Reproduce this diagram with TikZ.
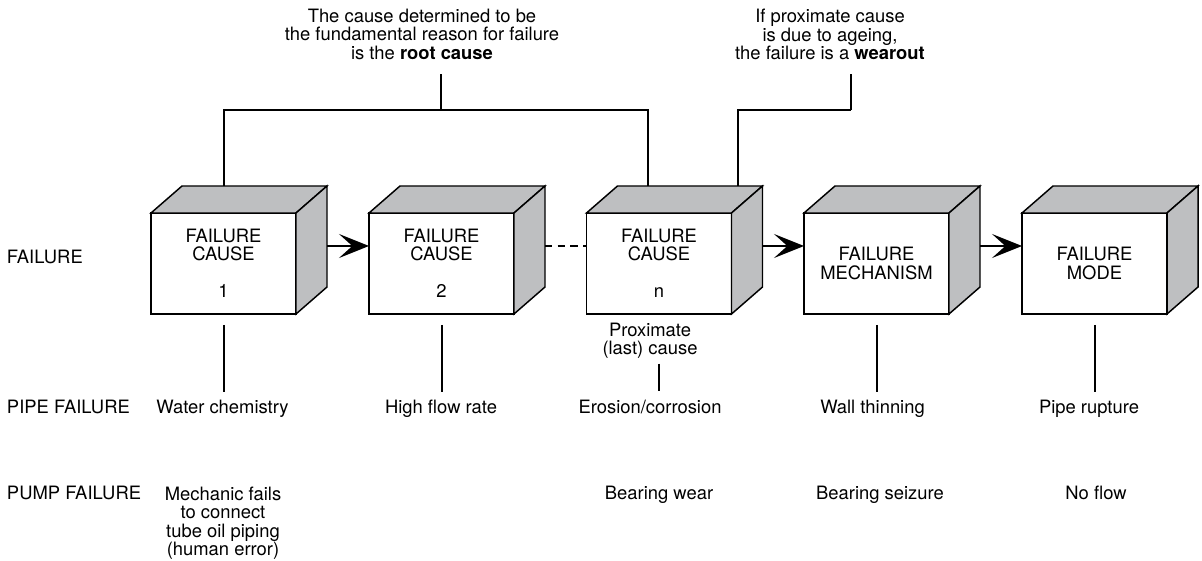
\documentclass[tikz,border=0pt]{standalone}
\usepackage{fontspec}
\setmainfont{TeX Gyre Heros}
\usetikzlibrary{arrows.meta,calc}
\definecolor{facegray}{RGB}{190,191,193}

\tikzset{
  failbox/.style={draw, line width=1.1pt, fill=white, minimum width=108.75pt,
    minimum height=75.75pt, inner sep=0pt, outer sep=0pt, align=center},
  face/.style={draw, line width=1.1pt, fill=facegray},
  txt/.style={inner sep=0pt, outer sep=0pt, align=center},
  link/.style={line width=1.5pt},
  flow/.style={line width=1.1pt, -{Stealth[length=22.5pt, width=18pt, inset=10pt]}},
}

% front face as a node, top and side faces drawn on its corners
\newcommand{\cubenode}[3]{%
  \node[failbox] (#1) at (#2,296.5) {#3};
  \filldraw[face] (#1.north west) -- ++(31,27) -- ++(145,0) -- (#1.north east) -- cycle;
  \filldraw[face] (#1.north east) -- ++(31,27) -- ++(0,-101) -- (#1.south east) -- cycle;
}

\begin{document}
\begin{tikzpicture}[x=0.75pt, y=0.75pt, font=\fontsize{13.8pt}{13.7pt}\selectfont]
  \useasboundingbox (0,0) rectangle (1202,560);

  % the blocks
  \cubenode{c1}{223.5}{FAILURE\\CAUSE\\[14pt]1}
  \cubenode{c2}{441.5}{FAILURE\\CAUSE\\[14pt]2}
  \cubenode{cn}{659}{FAILURE\\CAUSE\\[14pt]n}
  \cubenode{mech}{876.5}{FAILURE\\MECHANISM}
  \cubenode{mode}{1094.5}{FAILURE\\MODE}

  % arrows between blocks
  \draw[flow] ($(c1.east)+(31,17.5)$) -- ($(c2.west)+(0,17.5)$);
  \draw[line width=0.8pt, dash pattern=on 5.5pt off 4pt] ($(c2.east)+(31,17.5)$) -- ($(cn.west)+(0,17.5)$);
  \draw[flow] ($(cn.east)+(31,17.5)$) -- ($(mech.west)+(0,17.5)$);
  \draw[flow] ($(mech.east)+(31,17.5)$) -- ($(mode.west)+(0,17.5)$);

  % notes on top
  \node[txt, anchor=north] (rootnote) at (422,550.7)
    {The cause determined to be\\the fundamental reason for failure\\is the \textbf{root cause}};
  \node[txt, anchor=north] (wearnote) at (830,550.7)
    {If proximate cause\\is due to ageing,\\the failure is a \textbf{wearout}};
  \coordinate (rootbar) at (441,450);
  \coordinate (wearbar) at (850.5,450);
  \draw[link] ($(c1.north)+(0,27)$) |- (rootbar) -| ($(cn.north)+(-11,27)$);
  \draw[link, shorten >=10.5pt] (rootbar) -- (rootbar |- rootnote.south);
  \draw[link] ($(cn.north)+(79,27)$) |- (wearbar);
  \draw[link, shorten >=10.5pt] (wearbar) -- (wearbar |- wearnote.south);

  % row labels
  \node[txt, anchor=base west] (rowfail) at (7,296) {FAILURE};
  \node[txt, anchor=base west] (rowpipe) at (7,146.7) {PIPE FAILURE};
  \node[txt, anchor=base west] (rowpump) at (7,60) {PUMP FAILURE};

  % pipe failure
  \node[txt, anchor=north] (prox) at (650,237.3) {Proximate\\(last) cause};
  \node[txt, anchor=base] (pipe1) at (222.5,146.7) {Water chemistry};
  \node[txt, anchor=base] (pipe2) at (441,146.7) {High flow rate};
  \node[txt, anchor=base] (pipe3) at (650,146.7) {Erosion/corrosion};
  \node[txt, anchor=base] (pipe4) at (872.5,146.7) {Wall thinning};
  \node[txt, anchor=base] (pipe5) at (1089,146.7) {Pipe rupture};

  % pump failure
  \node[txt, anchor=north] (pump1) at (223,73)
    {Mechanic fails\\to connect\\tube oil piping\\(human error)};
  \node[txt, anchor=base] (pump3) at (659,60) {Bearing wear};
  \node[txt, anchor=base] (pump4) at (880,60) {Bearing seizure};
  \node[txt, anchor=base] (pump5) at (1096,60) {No flow};

  % ticks down to the pipe row
  \draw[link, shorten <=8.25pt, shorten >=6pt] (c1.south) -- (c1.south |- pipe1.north);
  \draw[link, shorten <=8.25pt, shorten >=6pt] (c2.south) -- (c2.south |- pipe2.north);
  \draw[link, shorten <=4pt, shorten >=6.75pt] (cn.south |- prox.south) -- (cn.south |- pipe3.north);
  \draw[link, shorten <=8.25pt, shorten >=6pt] (mech.south) -- (mech.south |- pipe4.north);
  \draw[link, shorten <=8.25pt, shorten >=6pt] (mode.south) -- (mode.south |- pipe5.north);
\end{tikzpicture}
\end{document}
